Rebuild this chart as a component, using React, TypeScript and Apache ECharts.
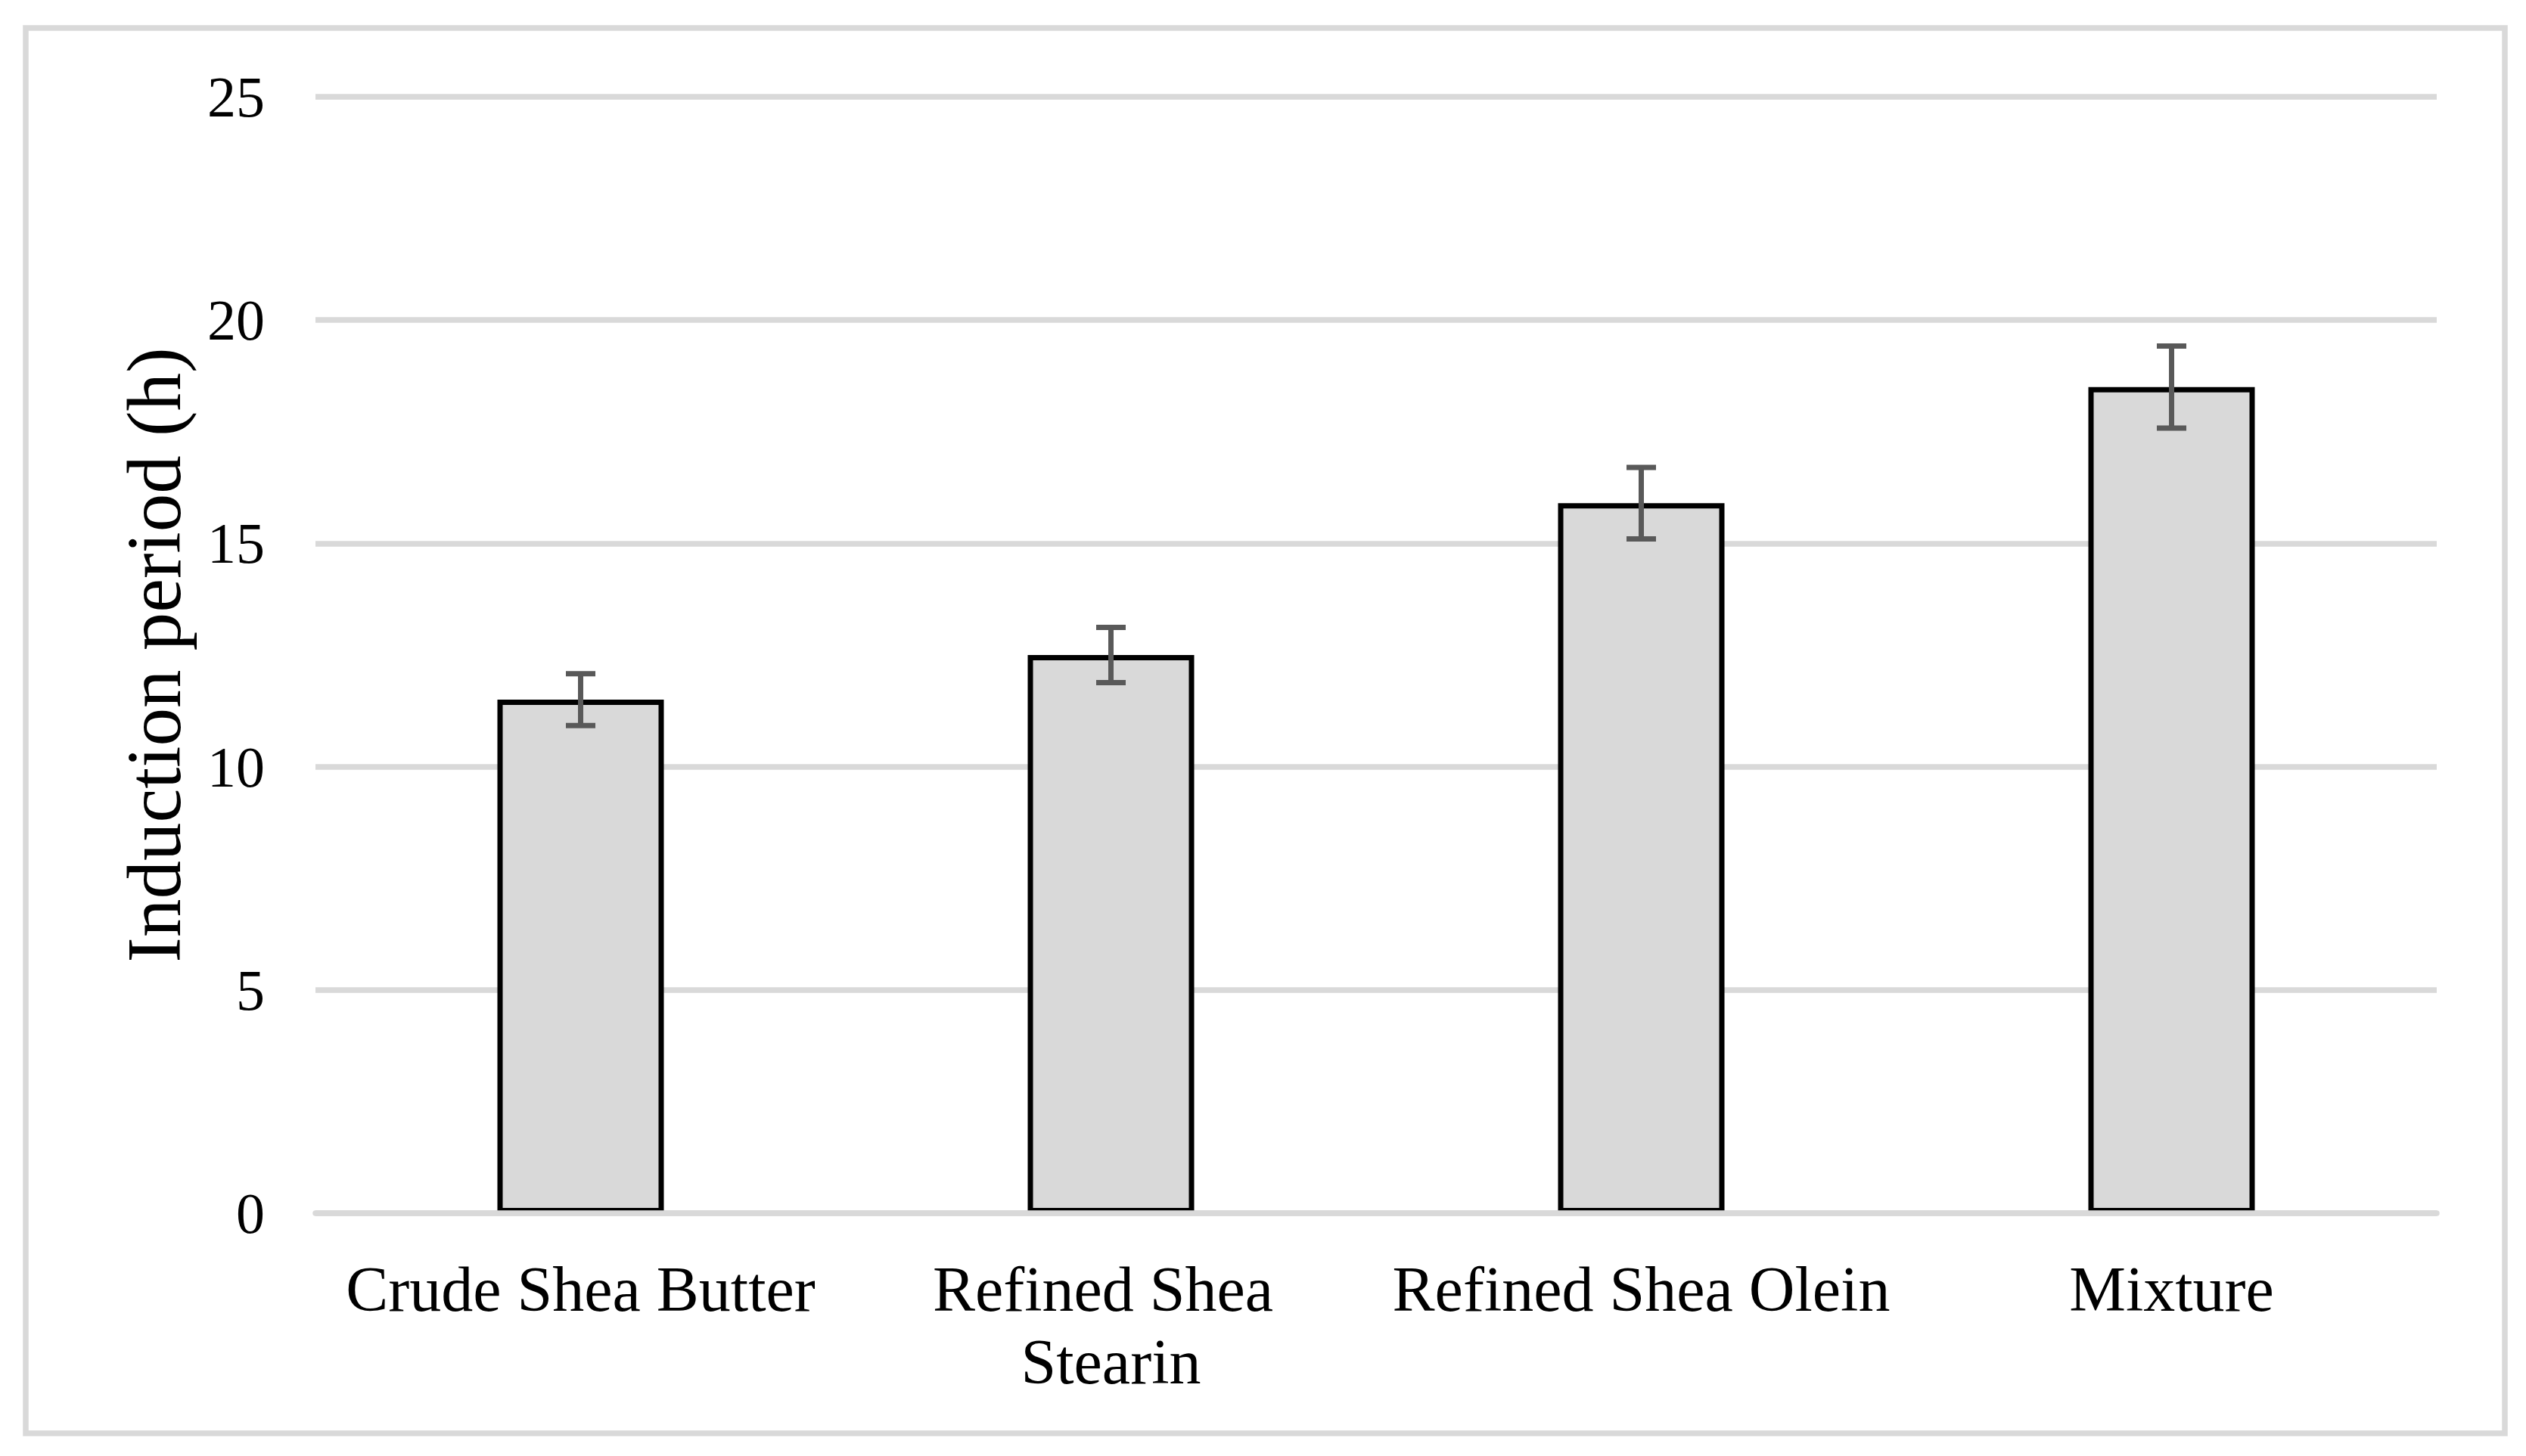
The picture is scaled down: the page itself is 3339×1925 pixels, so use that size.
import React, { useEffect, useRef } from "react";
import * as echarts from "echarts";

const categories = ["Crude Shea Butter", "Refined Shea Stearin", "Refined Shea Olein", "Mixture"];
const inductionPeriod = [11.5, 12.5, 15.9, 18.5];
const errorValues = [0.58, 0.62, 0.8, 0.92];
const yTicks = [0, 5, 10, 15, 20, 25];

const FONT = "'Liberation Serif', 'Times New Roman', serif";
const GRID_GRAY = "#d9d9d9";

export default function App() {
  const ref = useRef<HTMLDivElement>(null);

  useEffect(() => {
    if (!ref.current) return;
    const chart = echarts.init(ref.current, undefined, { renderer: "svg" });
    const yMin = yTicks[0];
    const yMax = yTicks[yTicks.length - 1];
    const yStep = yTicks[1] - yTicks[0];

    const errData = categories.map((_, i) => [i, inductionPeriod[i] - errorValues[i], inductionPeriod[i] + errorValues[i]]);

    const option: any = {
      animation: false,
      backgroundColor: "#ffffff",
      graphic: [
        {
          type: "rect",
          shape: { x: 34, y: 37, width: 3277, height: 1858 },
          style: { fill: "none", stroke: GRID_GRAY, lineWidth: 7.5 },
          z: 0,
        },
      ],
      grid: { left: 417, right: 118, top: 128, bottom: 321 },
      xAxis: {
        type: "category",
        data: categories,
        z: 5,
        axisLine: { show: true, lineStyle: { color: GRID_GRAY, width: 7.5 } },
        axisTick: { show: false },
        axisLabel: {
          color: "#000",
          fontFamily: FONT,
          fontSize: 84,
          lineHeight: 96,
          margin: 52,
          width: 685,
          overflow: "break",
          interval: 0,
        },
      },
      yAxis: {
        type: "value",
        min: yMin,
        max: yMax,
        interval: yStep,
        axisLine: { show: false },
        axisTick: { show: false },
        splitLine: { show: true, lineStyle: { color: GRID_GRAY, width: 7.5 } },
        axisLabel: { color: "#000", fontFamily: FONT, fontSize: 76, margin: 67 },
        name: "Induction period (h)",
        nameLocation: "middle",
        nameRotate: 90,
        nameGap: 163,
        nameTextStyle: { color: "#000", fontFamily: FONT, fontSize: 101 },
      },
      series: [
        {
          type: "bar",
          data: inductionPeriod,
          barWidth: 220,
          itemStyle: { color: GRID_GRAY, borderColor: "#000", borderWidth: 7 },
          z: 2,
        },
        {
          type: "custom",
          data: errData,
          z: 10,
          renderItem: (params: any, api: any) => {
            const x = api.value(0);
            const lo = api.coord([x, api.value(1)]);
            const hi = api.coord([x, api.value(2)]);
            const half = 19.5;
            const style = { stroke: "#595959", lineWidth: 7 };
            return {
              type: "group",
              children: [
                { type: "line", shape: { x1: hi[0], y1: hi[1], x2: lo[0], y2: lo[1] }, style },
                { type: "line", shape: { x1: hi[0] - half, y1: hi[1], x2: hi[0] + half, y2: hi[1] }, style },
                { type: "line", shape: { x1: lo[0] - half, y1: lo[1], x2: lo[0] + half, y2: lo[1] }, style },
              ],
            };
          },
        },
      ],
    };
    chart.setOption(option);
    return () => chart.dispose();
  }, []);

  return (
    <div
      ref={ref}
      style={{ position: "fixed", left: 0, top: 0, width: 3339, height: 1925, background: "#fff" }}
    />
  );
}
